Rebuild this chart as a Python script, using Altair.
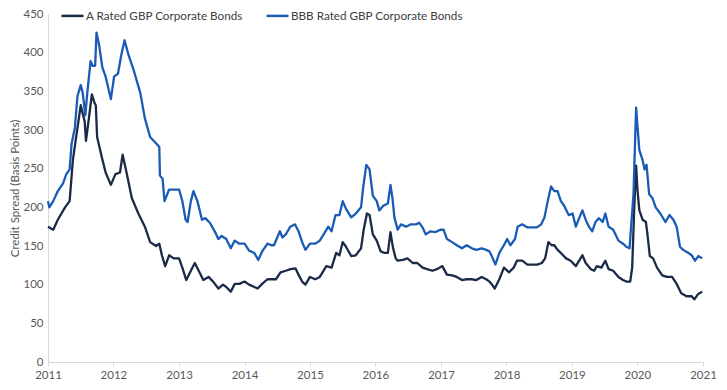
import altair as alt
import pandas as pd

# ---- data (decimal years, basis points) ----
a_years = [2011.00, 2011.08, 2011.15, 2011.26, 2011.33, 2011.38, 2011.43, 2011.50, 2011.56, 2011.58,
           2011.63, 2011.67, 2011.71, 2011.73, 2011.75, 2011.83, 2011.88, 2011.96, 2012.03, 2012.10,
           2012.14, 2012.20, 2012.28, 2012.38, 2012.48, 2012.56, 2012.65, 2012.70, 2012.74, 2012.79,
           2012.85, 2012.92, 2013.00, 2013.05, 2013.11, 2013.18, 2013.24, 2013.30, 2013.37, 2013.45,
           2013.52, 2013.60, 2013.67, 2013.72, 2013.79, 2013.85, 2013.92, 2014.00, 2014.07, 2014.15,
           2014.20, 2014.27, 2014.35, 2014.40, 2014.48, 2014.55, 2014.63, 2014.70, 2014.78, 2014.83,
           2014.88, 2014.93, 2015.00, 2015.08, 2015.15, 2015.25, 2015.33, 2015.40, 2015.45, 2015.50,
           2015.55, 2015.63, 2015.70, 2015.78, 2015.82, 2015.87, 2015.91, 2015.96, 2016.02, 2016.08,
           2016.14, 2016.19, 2016.23, 2016.27, 2016.31, 2016.34, 2016.42, 2016.49, 2016.57, 2016.64,
           2016.72, 2016.79, 2016.87, 2016.94, 2017.02, 2017.09, 2017.17, 2017.24, 2017.32, 2017.39,
           2017.47, 2017.54, 2017.62, 2017.69, 2017.74, 2017.77, 2017.82, 2017.89, 2017.96, 2018.04,
           2018.11, 2018.16, 2018.24, 2018.32, 2018.39, 2018.47, 2018.54, 2018.59, 2018.64, 2018.69,
           2018.73, 2018.78, 2018.83, 2018.91, 2018.98, 2019.06, 2019.11, 2019.16, 2019.21, 2019.29,
           2019.34, 2019.38, 2019.45, 2019.51, 2019.56, 2019.63, 2019.71, 2019.78, 2019.83, 2019.89,
           2019.92, 2019.95, 2019.98, 2020.00, 2020.03, 2020.08, 2020.13, 2020.15, 2020.19, 2020.24,
           2020.30, 2020.38, 2020.45, 2020.53, 2020.60, 2020.67, 2020.75, 2020.83, 2020.87, 2020.93,
           2020.99]
a_values = [175, 171, 184, 200, 208, 261, 291, 332, 311, 286,
            319, 346, 335, 332, 291, 262, 245, 229, 243, 245,
            268, 245, 212, 192, 175, 155, 150, 153, 138, 124,
            138, 134, 134, 122, 106, 118, 128, 118, 106, 110,
            104, 95, 100, 97, 91, 101, 101, 104, 100, 97,
            95, 101, 107, 107, 107, 116, 118, 120, 121, 112,
            104, 100, 110, 107, 110, 124, 122, 141, 138, 155,
            149, 137, 138, 147, 171, 192, 190, 165, 157, 143,
            141, 141, 168, 147, 134, 131, 132, 134, 128, 128,
            122, 120, 118, 120, 124, 113, 112, 110, 106, 107,
            107, 106, 110, 107, 104, 101, 95, 107, 122, 116,
            122, 131, 131, 126, 126, 126, 128, 134, 155, 151,
            151, 145, 141, 134, 131, 124, 131, 138, 128, 120,
            118, 124, 122, 131, 120, 118, 110, 106, 104, 104,
            122, 196, 254, 224, 196, 184, 181, 168, 137, 134,
            122, 112, 110, 110, 101, 89, 85, 85, 81, 88,
            91]

bbb_years = [2011.00, 2011.02, 2011.08, 2011.15, 2011.23, 2011.28, 2011.33, 2011.36, 2011.41, 2011.45,
             2011.50, 2011.53, 2011.57, 2011.60, 2011.65, 2011.68, 2011.72, 2011.74, 2011.78, 2011.83,
             2011.88, 2011.96, 2012.01, 2012.07, 2012.12, 2012.17, 2012.23, 2012.31, 2012.41, 2012.48,
             2012.56, 2012.66, 2012.70, 2012.71, 2012.75, 2012.78, 2012.85, 2012.92, 2013.00, 2013.05,
             2013.10, 2013.13, 2013.18, 2013.22, 2013.28, 2013.35, 2013.40, 2013.47, 2013.55, 2013.60,
             2013.65, 2013.72, 2013.79, 2013.85, 2013.92, 2014.00, 2014.07, 2014.15, 2014.21, 2014.27,
             2014.35, 2014.41, 2014.45, 2014.54, 2014.58, 2014.63, 2014.70, 2014.77, 2014.83, 2014.88,
             2014.93, 2015.00, 2015.08, 2015.15, 2015.23, 2015.28, 2015.33, 2015.39, 2015.45, 2015.50,
             2015.55, 2015.63, 2015.70, 2015.78, 2015.81, 2015.86, 2015.91, 2015.96, 2016.02, 2016.06,
             2016.12, 2016.19, 2016.23, 2016.26, 2016.29, 2016.34, 2016.39, 2016.47, 2016.54, 2016.62,
             2016.67, 2016.72, 2016.77, 2016.84, 2016.92, 2016.99, 2017.04, 2017.09, 2017.17, 2017.24,
             2017.32, 2017.39, 2017.47, 2017.54, 2017.62, 2017.69, 2017.74, 2017.78, 2017.83, 2017.89,
             2017.96, 2018.01, 2018.06, 2018.13, 2018.17, 2018.24, 2018.32, 2018.39, 2018.46, 2018.53,
             2018.58, 2018.63, 2018.68, 2018.73, 2018.78, 2018.83, 2018.88, 2018.95, 2019.01, 2019.06,
             2019.11, 2019.16, 2019.21, 2019.26, 2019.31, 2019.36, 2019.41, 2019.47, 2019.51, 2019.56,
             2019.63, 2019.71, 2019.78, 2019.83, 2019.88, 2019.90, 2019.94, 2019.98, 2020.00, 2020.03,
             2020.08, 2020.11, 2020.14, 2020.18, 2020.23, 2020.28, 2020.35, 2020.43, 2020.49, 2020.55,
             2020.60, 2020.65, 2020.70, 2020.78, 2020.83, 2020.88, 2020.93, 2020.99]
bbb_values = [208, 200, 208, 221, 231, 243, 249, 282, 303, 344,
              358, 348, 319, 348, 389, 383, 383, 426, 410, 381,
              369, 340, 369, 373, 397, 416, 397, 377, 348, 315,
              291, 282, 278, 241, 237, 208, 223, 223, 223, 208,
              184, 181, 208, 221, 208, 184, 186, 180, 168, 159,
              163, 159, 147, 157, 153, 153, 144, 141, 132, 143,
              153, 151, 151, 169, 161, 165, 175, 178, 168, 155,
              145, 153, 153, 157, 168, 175, 169, 190, 190, 208,
              198, 187, 192, 200, 224, 255, 249, 215, 208, 196,
              202, 205, 229, 212, 187, 171, 178, 175, 178, 178,
              180, 174, 165, 169, 168, 171, 171, 159, 155, 151,
              147, 151, 147, 145, 147, 145, 143, 136, 126, 141,
              151, 159, 151, 159, 175, 178, 174, 174, 174, 178,
              187, 208, 227, 221, 221, 208, 202, 190, 192, 175,
              186, 196, 184, 175, 169, 181, 186, 181, 192, 175,
              171, 157, 153, 149, 147, 171, 217, 329, 307, 274,
              261, 249, 255, 217, 212, 200, 192, 181, 190, 184,
              175, 149, 145, 141, 138, 131, 137, 134]

series_names = ["A Rated GBP Corporate Bonds", "BBB Rated GBP Corporate Bonds"]
series_colors = ["#1b2a47", "#1a5cb5"]
y_ticks = [0, 50, 100, 150, 200, 250, 300, 350, 400, 450]
x_years = list(range(2011, 2022))


def to_date(y):
    yr = int(y)
    return pd.Timestamp(year=yr, month=1, day=1) + pd.Timedelta(days=(y - yr) * 365.25)


rows = []
for name, ys, vs in [(series_names[0], a_years, a_values), (series_names[1], bbb_years, bbb_values)]:
    for y, v in zip(ys, vs):
        rows.append({"date": to_date(y), "value": v, "series": name})
df = pd.DataFrame(rows)

FONT = "Lato"
GREY = "#595959"

chart = alt.Chart(df).mark_line(strokeWidth=2.3, strokeJoin="round").encode(
    x=alt.X(
        "date:T",
        scale=alt.Scale(domain=[alt.DateTime(year=2011, month=1, date=1),
                                alt.DateTime(year=2021, month=1, date=1)], nice=False),
        axis=alt.Axis(
            title=None,
            format="%Y",
            values=[alt.DateTime(year=y, month=1, date=1) for y in x_years],
            grid=False,
            labelFlush=False,
            domainColor="#d9d9d9",
            tickColor="#d9d9d9",
            tickSize=4,
            labelPadding=3,
            labelColor=GREY,
            labelFontSize=11.5,
            labelFont=FONT,
        ),
    ),
    y=alt.Y(
        "value:Q",
        scale=alt.Scale(domain=[0, 450], nice=False),
        axis=alt.Axis(
            title="Credit Spread (Basis Points)",
            values=y_ticks,
            grid=False,
            ticks=False,
            tickSize=0,
            domainColor="#d9d9d9",
            labelPadding=5,
            labelColor=GREY,
            labelFontSize=11.5,
            labelFont=FONT,
            titleFont=FONT,
            titleFontSize=11.5,
            titleFontWeight="normal",
            titleColor=GREY,
            titlePadding=2,
        ),
    ),
    color=alt.Color(
        "series:N",
        sort=series_names,
        scale=alt.Scale(domain=series_names, range=series_colors),
        legend=alt.Legend(
            title=None,
            orient="none",
            legendX=12,
            legendY=-11,
            direction="horizontal",
            symbolType="stroke",
            symbolStrokeWidth=2.5,
            symbolSize=484,
            labelOffset=1,
            columnPadding=17,
            labelFontSize=11.7,
            labelFont=FONT,
            labelColor="#404040",
            labelLimit=400,
            padding=0,
        ),
    ),
).properties(
    width=655,
    height=348,
    autosize=alt.AutoSizeParams(type="none"),
    padding={"left": 40, "top": 6, "right": 16, "bottom": 20},
).configure_view(stroke=None)

chart.save("out.html", embed_options={"renderer": "svg", "actions": False})
